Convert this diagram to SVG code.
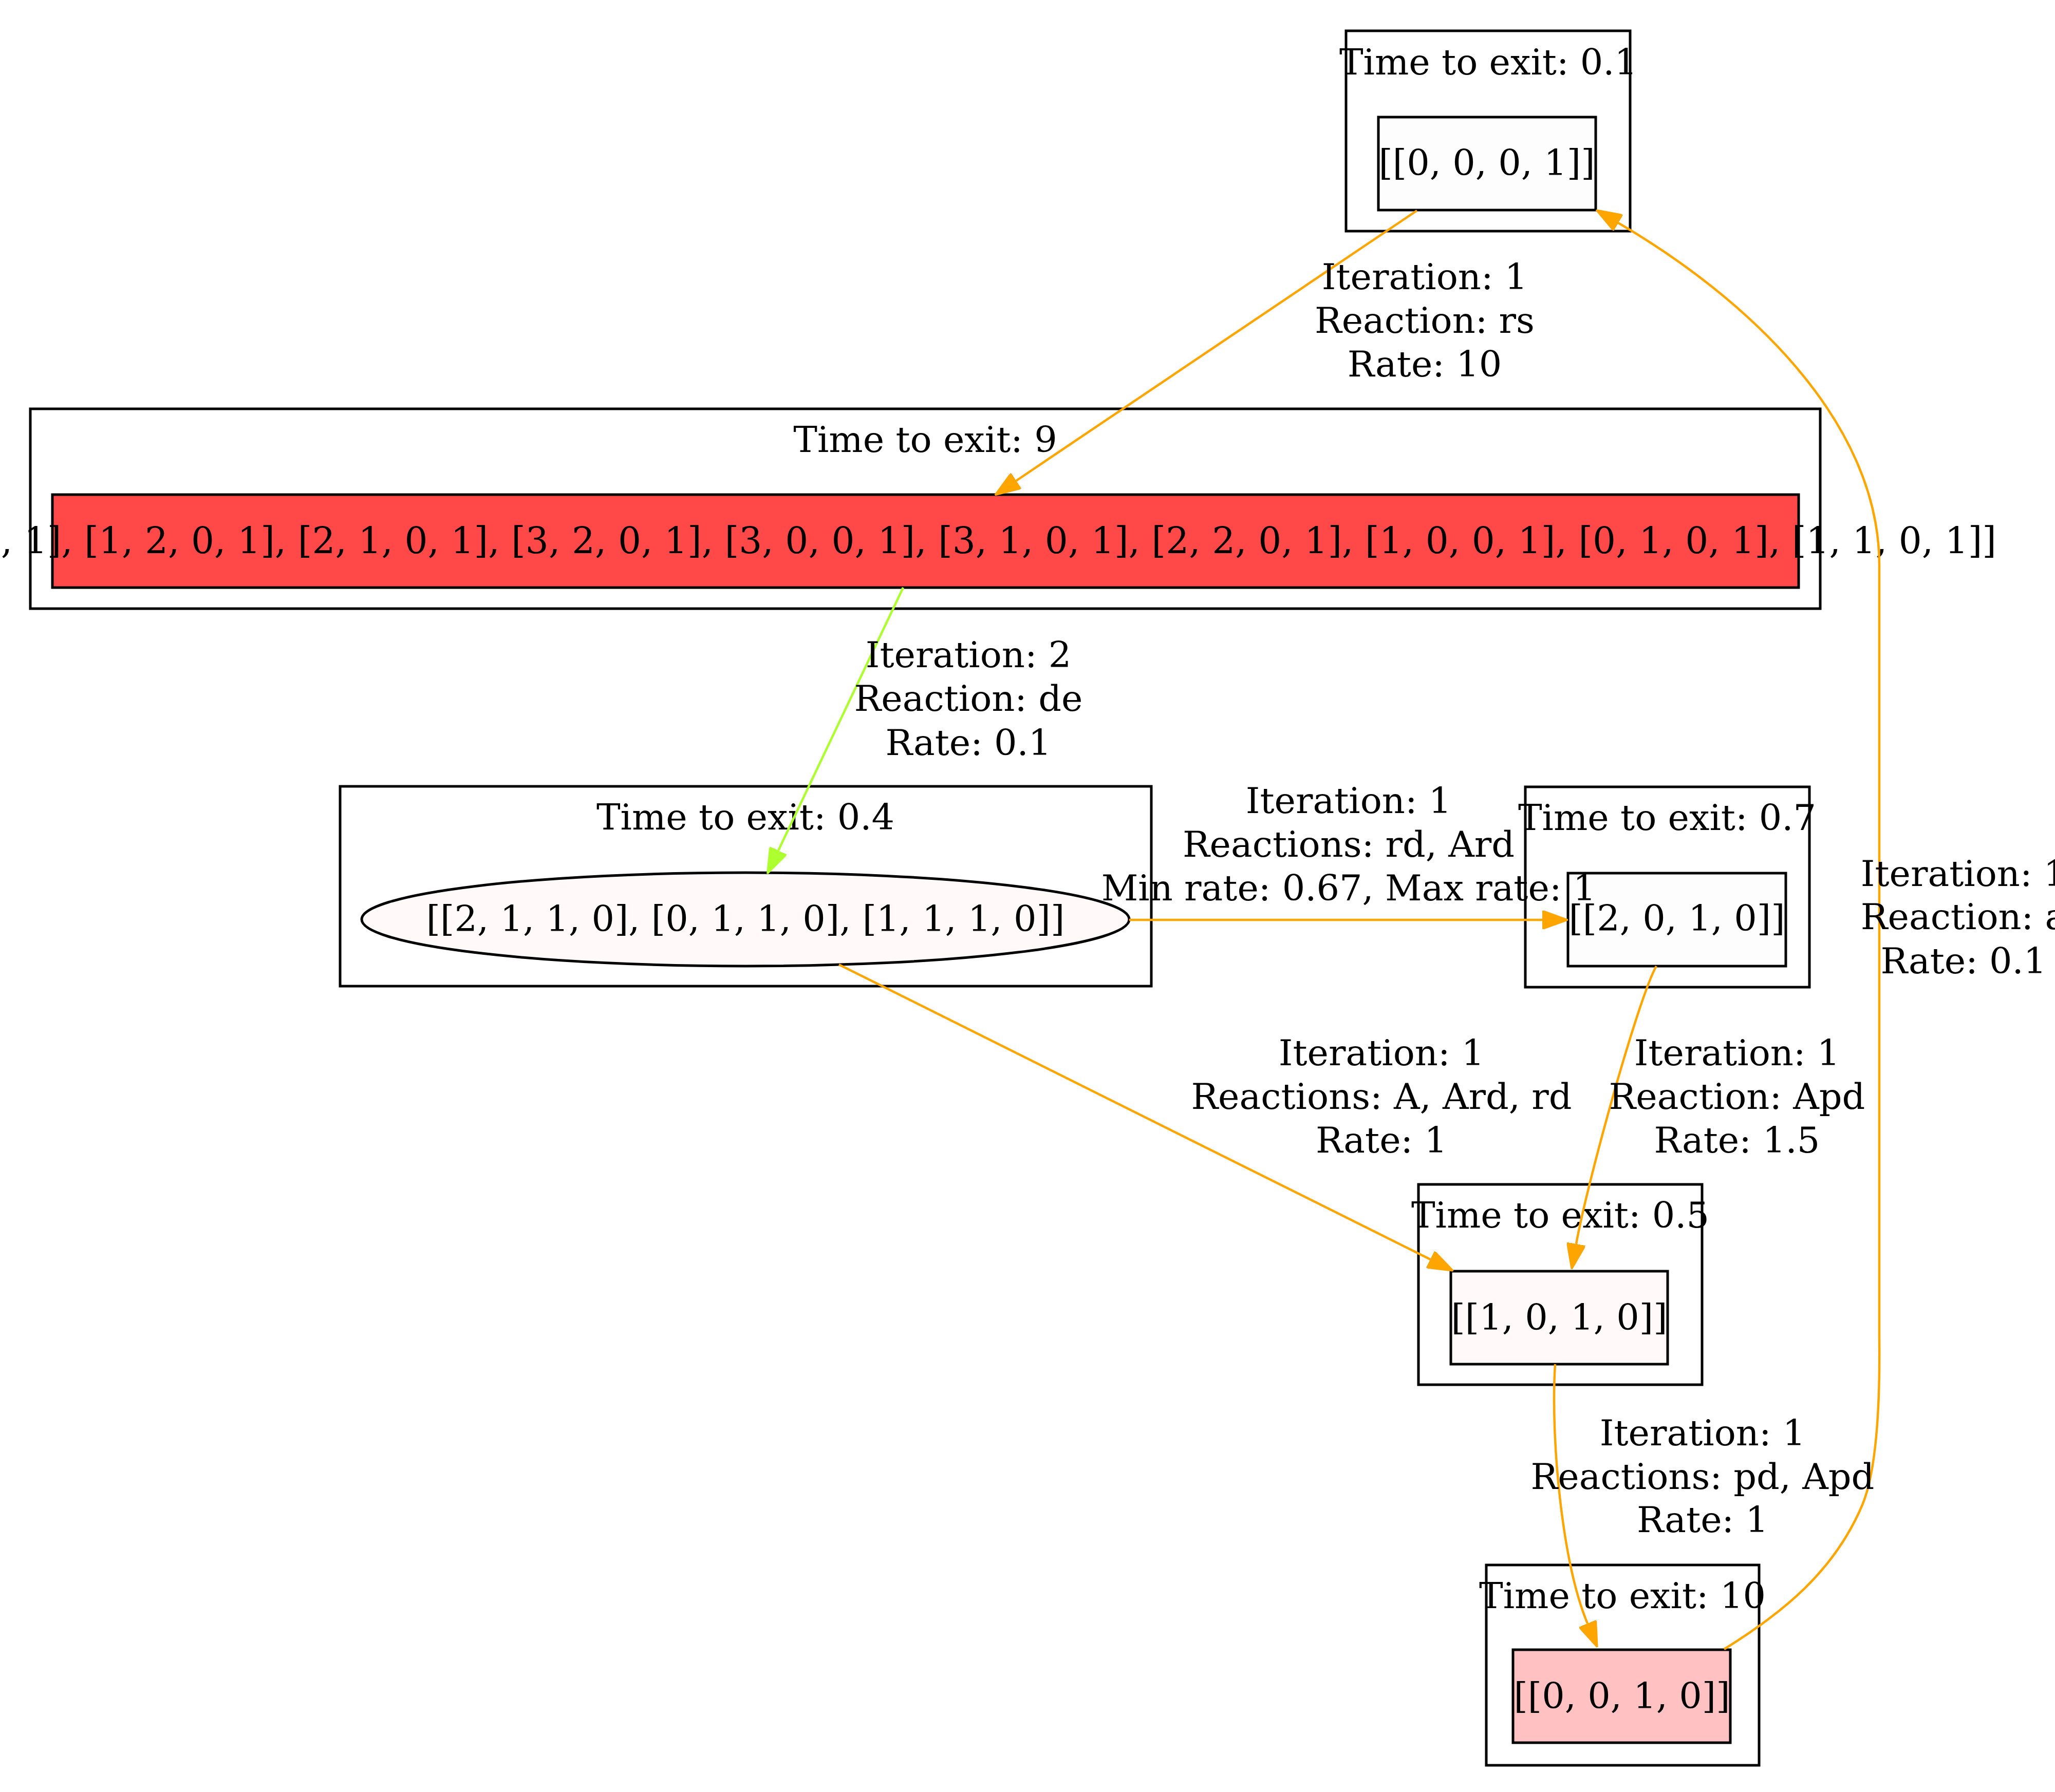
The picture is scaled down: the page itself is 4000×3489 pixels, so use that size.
<svg xmlns="http://www.w3.org/2000/svg" width="4000" height="3489" viewBox="0 0 4000 3489">
<style>
text { font-family: "DejaVu Serif", "Liberation Serif", serif; font-size: 70px; fill: #000; text-anchor: middle; }
.cluster { fill: none; stroke: #000; stroke-width: 5; }
.node { stroke: #000; stroke-width: 5; }
.edge { fill: none; stroke-width: 4.5; }
.orange { stroke: #ffa500; }
.green { stroke: #adff2f; }
</style>
<defs>
<marker id="arrO" markerUnits="userSpaceOnUse" viewBox="0 0 50 36" refX="0" refY="18" markerWidth="50" markerHeight="36" orient="auto">
<path d="M0,0 L50,18 L0,36 z" fill="#ffa500" stroke="#ffa500" stroke-width="3"/>
</marker>
<marker id="arrG" markerUnits="userSpaceOnUse" viewBox="0 0 50 36" refX="0" refY="18" markerWidth="50" markerHeight="36" orient="auto">
<path d="M0,0 L50,18 L0,36 z" fill="#adff2f" stroke="#adff2f" stroke-width="3"/>
</marker>
</defs>
<rect width="4000" height="3489" fill="#fff"/>

<g id="cluster_A">
<rect class="cluster" x="2620" y="60" width="553" height="390"/>
<text x="2897" y="145">Time to exit: 0.1</text>
</g>
<g id="cluster_B">
<rect class="cluster" x="59" y="796" width="3484" height="389"/>
<text x="1801" y="880">Time to exit: 9</text>
</g>
<g id="cluster_C">
<rect class="cluster" x="662" y="1531" width="1579" height="389"/>
<text x="1451" y="1615">Time to exit: 0.4</text>
</g>
<g id="cluster_D">
<rect class="cluster" x="2969" y="1532" width="553" height="390"/>
<text x="3245" y="1616">Time to exit: 0.7</text>
</g>
<g id="cluster_E">
<rect class="cluster" x="2761" y="2306" width="552" height="390"/>
<text x="3037" y="2390">Time to exit: 0.5</text>
</g>
<g id="cluster_F">
<rect class="cluster" x="2893" y="3047" width="531" height="390"/>
<text x="3158" y="3131">Time to exit: 10</text>
</g>

<g id="node_A">
<rect class="node" x="2683" y="228" width="423" height="181" fill="#fdfdfd"/>
<text x="2894" y="341">[[0, 0, 0, 1]]</text>
</g>
<g id="node_B">
<rect class="node" x="102" y="963" width="3399" height="181" fill="#ff4848"/>
<text x="3886" y="1077" style="text-anchor:end;font-size:70.8px">, 1], [1, 2, 0, 1], [2, 1, 0, 1], [3, 2, 0, 1], [3, 0, 0, 1], [3, 1, 0, 1], [2, 2, 0, 1], [1, 0, 0, 1], [0, 1, 0, 1], [1, 1, 0, 1]]</text>
</g>
<g id="node_C">
<ellipse class="node" cx="1451" cy="1790" rx="747" ry="91" fill="#fff9f9"/>
<text x="1451" y="1813">[[2, 1, 1, 0], [0, 1, 1, 0], [1, 1, 1, 0]]</text>
</g>
<g id="node_D">
<rect class="node" x="3052" y="1700" width="424" height="181" fill="#fefdfd"/>
<text x="3264" y="1812">[[2, 0, 1, 0]]</text>
</g>
<g id="node_E">
<rect class="node" x="2824" y="2475" width="422" height="181" fill="#fff9f9"/>
<text x="3035" y="2589">[[1, 0, 1, 0]]</text>
</g>
<g id="node_F">
<rect class="node" x="2945" y="3212" width="423" height="181" fill="#ffc1c1"/>
<text x="3157" y="3326">[[0, 0, 1, 0]]</text>
</g>

<g id="edges">
<path class="edge orange" d="M2758,410 L1978,936" marker-end="url(#arrO)"/>
<path class="edge green" d="M1758,1144 L1515,1656" marker-end="url(#arrG)"/>
<path class="edge orange" d="M2198,1791 L3002,1791" marker-end="url(#arrO)"/>
<path class="edge orange" d="M1633,1878 L2784,2452" marker-end="url(#arrO)"/>
<path class="edge orange" d="M3224,1881 C3190,1940 3090,2300 3068,2422" marker-end="url(#arrO)"/>
<path class="edge orange" d="M3027,2656 C3018,2800 3040,3040 3090,3161" marker-end="url(#arrO)"/>
<path class="edge orange" d="M3356,3211 C3470,3140 3570,3060 3625,2930 C3650,2870 3660,2760 3658,2600 L3658,1100 C3658,820 3400,580 3150,434" marker-end="url(#arrO)"/>
</g>

<g id="edge_labels">
<text x="2773" y="563">Iteration: 1</text>
<text x="2773" y="648">Reaction: rs</text>
<text x="2773" y="733">Rate: 10</text>
<text x="1885" y="1299">Iteration: 2</text>
<text x="1885" y="1384">Reaction: de</text>
<text x="1885" y="1470">Rate: 0.1</text>
<text x="2625" y="1583">Iteration: 1</text>
<text x="2625" y="1668">Reactions: rd, Ard</text>
<text x="2625" y="1753">Min rate: 0.67, Max rate: 1</text>
<text x="2689" y="2074">Iteration: 1</text>
<text x="2689" y="2159">Reactions: A, Ard, rd</text>
<text x="2689" y="2244">Rate: 1</text>
<text x="3381" y="2074">Iteration: 1</text>
<text x="3381" y="2159">Reaction: Apd</text>
<text x="3381" y="2244">Rate: 1.5</text>
<text x="3314" y="2814">Iteration: 1</text>
<text x="3314" y="2899">Reactions: pd, Apd</text>
<text x="3314" y="2983">Rate: 1</text>
<text x="3822" y="1725">Iteration: 1</text>
<text x="3822" y="1809">Reaction: a</text>
<text x="3822" y="1895">Rate: 0.1</text>
</g>
</svg>
